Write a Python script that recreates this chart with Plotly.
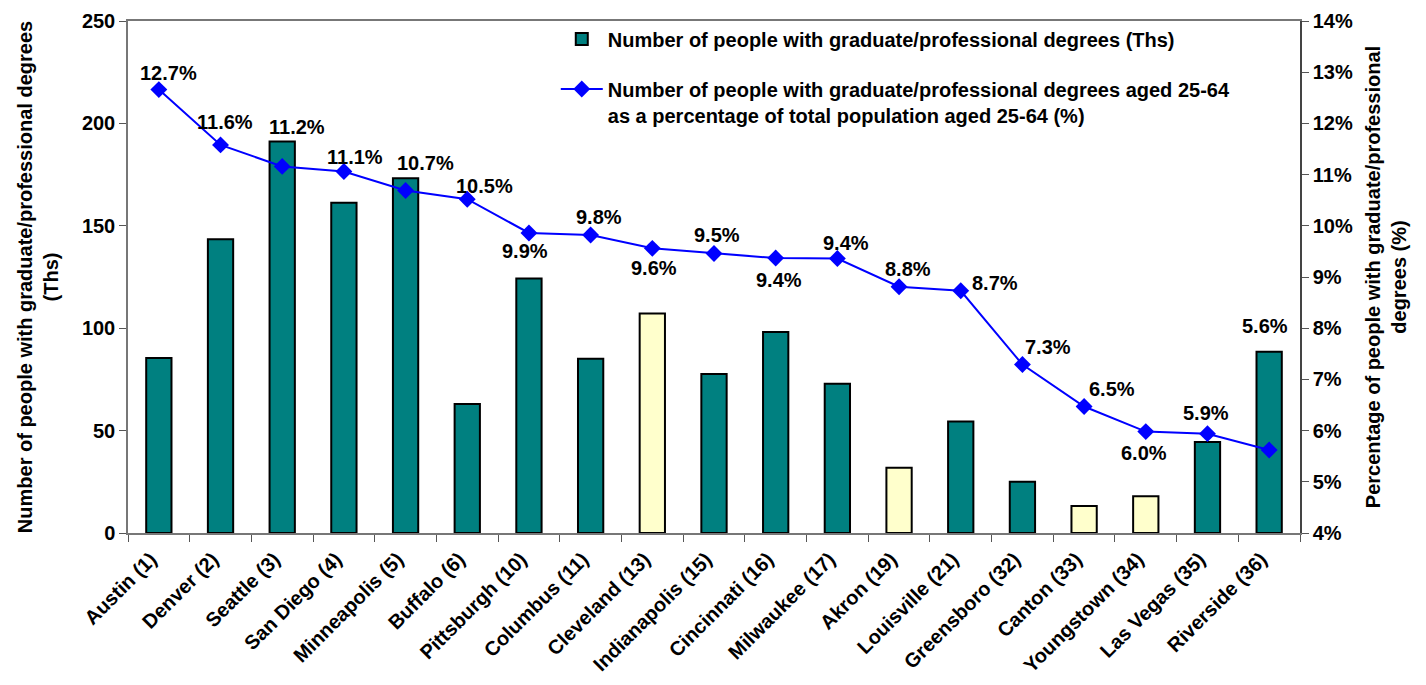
import plotly.graph_objects as go

cities = ["Austin (1)", "Denver (2)", "Seattle (3)", "San Diego (4)", "Minneapolis (5)",
          "Buffalo (6)", "Pittsburgh (10)", "Columbus (11)", "Cleveland (13)",
          "Indianapolis (15)", "Cincinnati (16)", "Milwaukee (17)", "Akron (19)",
          "Louisville (21)", "Greensboro (32)", "Canton (33)", "Youngstown (34)",
          "Las Vegas (35)", "Riverside (36)"]
grads_ths = [85.4, 143.4, 191.2, 161.3, 173.2, 63.0, 124.3, 85.1, 107.2,
             77.6, 98.2, 72.9, 31.9, 54.4, 25.0, 13.2, 17.9, 44.4, 88.5]
grads_pct = [12.66, 11.58, 11.16, 11.06, 10.69, 10.52, 9.86, 9.82, 9.56,
             9.46, 9.37, 9.36, 8.81, 8.73, 7.29, 6.47, 5.98, 5.94, 5.62]
highlighted = ["Cleveland (13)", "Akron (19)", "Canton (33)", "Youngstown (34)"]
left_ticks = [0, 50, 100, 150, 200, 250]
right_ticks = [4, 5, 6, 7, 8, 9, 10, 11, 12, 13, 14]

# pixel nudges of each data label relative to its point (x, y-up)
label_nudge = [(10, 17), (4, 23), (15, 39), (11, 15), (20, 27), (17, 13), (-4, -18),
               (8, 18), (2, -20), (3, 18), (3, -22), (9, 16), (9, 18), (34, 8),
               (26, 18), (28, 18), (-2, -21), (-1, 21), (-4, 124)]

TEAL = "#008080"
PALE = "#FFFFCC"
BLUE = "#0000FF"
FONT = "Liberation Sans"

bar_colors = [PALE if c in highlighted else TEAL for c in cities]

fig = go.Figure()
fig.add_trace(go.Bar(
    x=cities, y=grads_ths, width=0.41,
    marker=dict(color=bar_colors, line=dict(color="#000000", width=2)),
    name="Number of people with graduate/professional degrees (Ths)",
    legendgroup="a", yaxis="y",
))
fig.add_trace(go.Scatter(
    x=cities, y=grads_pct, mode="lines+markers", yaxis="y2",
    line=dict(color=BLUE, width=2),
    marker=dict(symbol="diamond", size=13, color=BLUE),
    name="Number of people with graduate/professional degrees aged 25-64<br>as a percentage of total population aged 25-64 (%)",
    legendgroup="b",
))

annotations = []
for c, v, (dx, dy) in zip(cities, grads_pct, label_nudge):
    annotations.append(dict(
        x=c, y=v, xref="x", yref="y2", text=f"{v:.1f}%", showarrow=False,
        xshift=dx, yshift=dy,
        font=dict(family=FONT, size=20, color="#000000", weight="bold"),
    ))

fig.update_layout(
    width=1426, height=685,
    margin=dict(l=120, r=134, t=13, b=160, autoexpand=False),
    paper_bgcolor="white", plot_bgcolor="white",
    font=dict(family=FONT, size=19, color="#000000", weight="bold"),
    showlegend=True,
    legend=dict(
        x=0.365, y=1.003, xanchor="left", yanchor="top",
        bgcolor="rgba(0,0,0,0)", borderwidth=0,
        font=dict(family=FONT, size=20, color="#000000", weight="bold"),
        tracegroupgap=21, itemwidth=42, valign="top",
    ),
    xaxis=dict(
        type="category", tickson="boundaries", ticks="outside", ticklen=7,
        tickcolor="#555555", tickangle=-45, showline=True, linecolor="#777777",
        linewidth=1.5, mirror=True, showgrid=False, zeroline=False,
        tickfont=dict(family=FONT, size=20, weight="bold"),
        ticklabelstandoff=5, ticklabelshift=-8,
        range=[-0.5, len(cities) - 0.5], automargin=False,
    ),
    yaxis=dict(
        range=[0, 250], tickvals=left_ticks, ticks="outside", ticklen=7,
        tickcolor="#555555", showline=True, linecolor="#777777", linewidth=1.5,
        showgrid=False, zeroline=False, automargin=False,
        tickfont=dict(family=FONT, size=20, weight="bold"),
        title=dict(text="Number of people with graduate/professional degrees<br>(Ths)",
                   font=dict(family=FONT, size=20, weight="bold"), standoff=18),
    ),
    yaxis2=dict(
        range=[4, 14], tickvals=right_ticks,
        ticktext=[f"{t}%" for t in right_ticks], overlaying="y",
        side="right", ticks="outside", ticklen=7, tickcolor="#555555",
        showline=True, linecolor="#444444", linewidth=1.5, showgrid=False,
        zeroline=False, automargin=False,
        tickfont=dict(family=FONT, size=20, weight="bold"),
        title=dict(text="Percentage of people with graduate/professional<br>degrees (%)",
                   font=dict(family=FONT, size=20, weight="bold"), standoff=14),
    ),
    annotations=annotations,
)

fig.write_html("out.html")
